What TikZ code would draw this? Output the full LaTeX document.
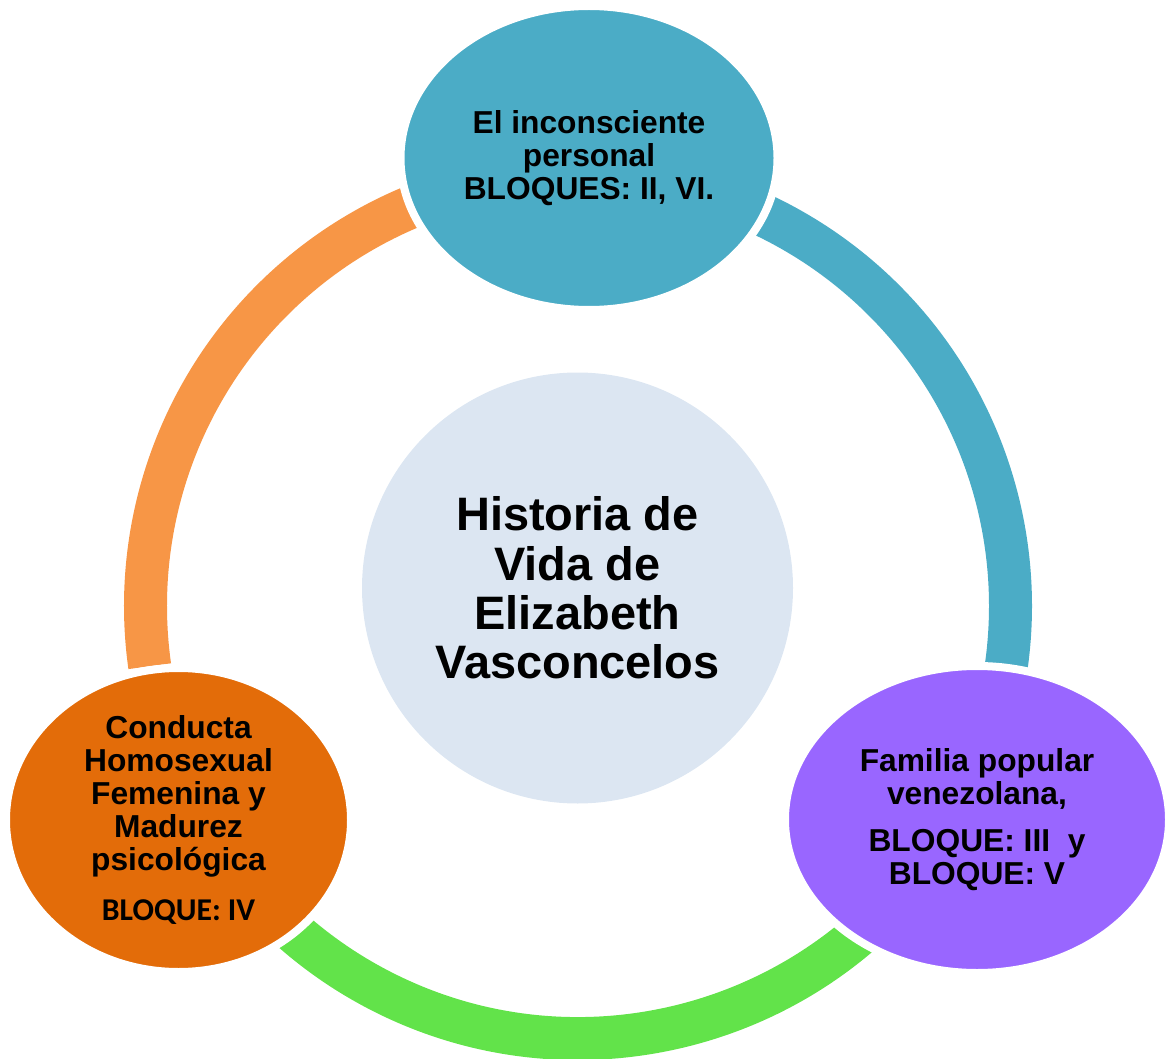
\documentclass[tikz,border=0pt]{standalone}
\usepackage{fontspec}
\setmainfont{Liberation Sans}
\newfontfamily\carlito{Carlito}
\usetikzlibrary{shapes.geometric,calc}
\definecolor{cTeal}{HTML}{4BACC6}
\definecolor{cOrangeArc}{HTML}{F79646}
\definecolor{cGreen}{HTML}{62E34A}
\definecolor{cPurple}{HTML}{9966FF}
\definecolor{cOrange}{HTML}{E36C09}
\definecolor{cCenter}{HTML}{DCE6F2}
\tikzset{
  ringarc/.style={line width=32.25pt, line cap=butt},
  bubble/.style={ellipse, draw=white, line width=6pt, inner sep=0pt, outer sep=0pt, align=center,
    font=\bfseries\fontsize{23.8}{24.75}\selectfont, text=black},
  hub/.style={circle, fill=cCenter, draw=none, inner sep=0pt, minimum size=323.25pt, align=center,
    font=\bfseries\fontsize{35.2}{37.1}\selectfont, text=black}
}
\begin{document}
\begin{tikzpicture}[x=0.75pt, y=-0.75pt]
\useasboundingbox (0,0) rectangle (1167,1059);
\coordinate (rc) at (578,606);
% ring arcs (angles in picture coordinates, y downwards)
\draw[ringarc, cOrangeArc] ($(rc)+(172:432.5)$) arc[start angle=172, end angle=265, radius=432.5];
\draw[ringarc, cTeal] ($(rc)+(275:432.5)$) arc[start angle=275, end angle=368, radius=432.5];
\draw[ringarc, cGreen] ($(rc)+(30:432.5)$) arc[start angle=30, end angle=150, radius=432.5];
% nodes
\node[hub] (hub) at (577.5,588) {Historia de\\Vida de\\Elizabeth\\Vasconcelos};
\node[bubble, fill=cTeal, minimum width=282.75pt, minimum height=228pt] (top) at (589,158)
  {El inconsciente\\personal\\BLOQUES: II, VI.};
\node[bubble, fill=cPurple, minimum width=288pt, minimum height=230.25pt] (right) at (977,819.5)
  {Familia popular\\venezolana,\\[10pt]BLOQUE: III\ \ y\\BLOQUE: V};
\node[bubble, fill=cOrange, minimum width=258.75pt, minimum height=228pt] (left) at (178.5,820)
  {Conducta\\Homosexual\\Femenina y\\Madurez\\psicológica\\[13pt]{\carlito BLOQUE: IV}};
\end{tikzpicture}
\end{document}
